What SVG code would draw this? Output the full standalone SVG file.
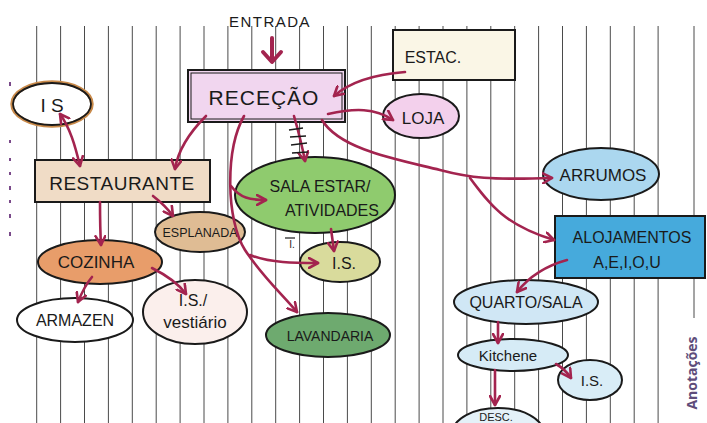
<svg xmlns="http://www.w3.org/2000/svg" width="707" height="423" viewBox="0 0 707 423">
<defs>
<marker id="ah" viewBox="0 0 12 12" refX="10" refY="6" markerWidth="12" markerHeight="12" markerUnits="userSpaceOnUse" orient="auto-start-reverse">
<path d="M1,1 L10,6 L1,11" fill="none" stroke="#a3244f" stroke-width="2.6" stroke-linecap="round" stroke-linejoin="round"/>
</marker>
<style>
.rule{stroke:#4a4a4a;stroke-width:1}
.nd{stroke:#1a1a1a;stroke-width:2}
.t{font-family:"Liberation Sans",Arial,sans-serif;fill:#1a1a1a;text-anchor:middle}
.c{fill:none;stroke:#a3244f;stroke-width:2.6;stroke-linecap:round}
.ca{fill:none;stroke:#a3244f;stroke-width:2.6;stroke-linecap:round;marker-end:url(#ah)}
.hatch{stroke:#1a1a1a;stroke-width:1.4}
</style>
</defs>
<rect width="707" height="423" fill="#ffffff"/>
<g id="paper">
<g class="rule">
<line x1="36.7" y1="26" x2="36.7" y2="423"/><line x1="60.6" y1="26" x2="60.6" y2="423"/><line x1="84.5" y1="26" x2="84.5" y2="423"/><line x1="108.4" y1="26" x2="108.4" y2="423"/><line x1="132.3" y1="26" x2="132.3" y2="423"/><line x1="156.2" y1="26" x2="156.2" y2="423"/><line x1="180.1" y1="26" x2="180.1" y2="423"/><line x1="204" y1="26" x2="204" y2="423"/><line x1="227.9" y1="26" x2="227.9" y2="423"/><line x1="251.8" y1="26" x2="251.8" y2="423"/><line x1="275.7" y1="26" x2="275.7" y2="423"/><line x1="299.6" y1="26" x2="299.6" y2="423"/><line x1="323.5" y1="26" x2="323.5" y2="423"/><line x1="347.4" y1="26" x2="347.4" y2="423"/><line x1="371.3" y1="26" x2="371.3" y2="423"/><line x1="395.2" y1="26" x2="395.2" y2="423"/><line x1="419.1" y1="26" x2="419.1" y2="423"/><line x1="443" y1="26" x2="443" y2="423"/><line x1="466.9" y1="26" x2="466.9" y2="423"/><line x1="490.8" y1="26" x2="490.8" y2="423"/><line x1="514.7" y1="26" x2="514.7" y2="423"/><line x1="538.6" y1="26" x2="538.6" y2="423"/><line x1="562.5" y1="26" x2="562.5" y2="423"/><line x1="586.4" y1="26" x2="586.4" y2="423"/><line x1="610.3" y1="26" x2="610.3" y2="423"/><line x1="634.2" y1="26" x2="634.2" y2="423"/><line x1="658.1" y1="26" x2="658.1" y2="423"/>
<line x1="694" y1="26" x2="694" y2="318"/>
</g>
<g fill="#7a4a8a">
<rect x="9" y="82" width="2" height="4"/><rect x="9" y="140" width="2" height="3"/><rect x="9" y="158" width="2" height="3"/><rect x="9" y="172" width="2" height="3"/><rect x="9" y="186" width="2" height="4"/><rect x="9" y="200" width="2" height="3"/><rect x="9" y="214" width="2" height="4"/><rect x="9" y="232" width="2" height="4"/>
</g>
<text x="0" y="0" transform="translate(697,373) rotate(-90)" font-family="'Open Sans','Liberation Sans',sans-serif" font-size="14" font-weight="bold" fill="#5e4d7a" text-anchor="middle">Anotações</text>
</g>

<g id="entrada">
<text class="t" x="270" y="27" font-size="15" letter-spacing="1.5">ENTRADA</text>
</g>
<g id="recepcao">
<rect x="188" y="70" width="157" height="52" fill="#f1d6ef" class="nd"/>
<rect x="191" y="73" width="151" height="46" fill="none" stroke="#1a1a1a" stroke-width="1"/>
<text class="t" x="264" y="105" font-size="21" letter-spacing="1">RECEÇÃO</text>
</g>
<g id="estac">
<rect x="393" y="30" width="122" height="50" fill="#faf6e6" class="nd"/>
<text class="t" x="433" y="63" font-size="16">ESTAC.</text>
</g>
<g id="loja">
<ellipse cx="421" cy="116" rx="38" ry="22" fill="#f3d0ec" class="nd"/>
<text class="t" x="423" y="124" font-size="17">LOJA</text>
</g>
<g id="is-top">
<ellipse cx="52" cy="104" rx="40" ry="22" fill="#ffffff" stroke="#c98a4a" stroke-width="3.5"/>
<ellipse cx="52" cy="104" rx="39" ry="21" fill="none" stroke="#1a1a1a" stroke-width="1.8"/>
<text class="t" x="52" y="112" font-size="19">I S</text>
</g>
<g id="restaurante">
<rect x="35" y="160" width="175" height="42" fill="#f0dcc6" class="nd"/>
<text class="t" x="122" y="190" font-size="19" letter-spacing="0.5">RESTAURANTE</text>
</g>
<g id="esplanada">
<ellipse cx="200" cy="232" rx="45" ry="20" fill="#dfbc94" class="nd"/>
<text class="t" x="200" y="237" font-size="12.5">ESPLANADA</text>
</g>
<g id="cozinha">
<ellipse cx="100" cy="262" rx="62" ry="22" fill="#e89d6a" class="nd"/>
<text class="t" x="96" y="268" font-size="17">COZINHA</text>
</g>
<g id="armazen">
<ellipse cx="75" cy="320" rx="58" ry="22" fill="#ffffff" class="nd"/>
<text class="t" x="75" y="326" font-size="16">ARMAZEN</text>
</g>
<g id="is-vestiario">
<ellipse cx="195" cy="312" rx="52" ry="32" fill="#fbefec" class="nd"/>
<text class="t" x="193" y="306" font-size="16">I.S./</text>
<text class="t" x="195" y="328" font-size="17">vestiário</text>
</g>
<g id="sala">
<ellipse cx="315" cy="195" rx="80" ry="38" fill="#8fcb6e" class="nd"/>
<text class="t" x="320" y="192" font-size="16">SALA ESTAR/</text>
<text class="t" x="332" y="216" font-size="16">ATIVIDADES</text>
</g>
<g id="is-mid">
<ellipse cx="340" cy="262" rx="40" ry="20" fill="#d9db9c" class="nd"/>
<text class="t" x="344" y="269" font-size="16">I.S.</text>
<line x1="285" y1="238" x2="295" y2="238" stroke="#1a1a1a" stroke-width="1.2"/>
<text class="t" x="292" y="248" font-size="10">I.</text>
</g>
<g id="lavandaria">
<ellipse cx="328" cy="335" rx="62" ry="22" fill="#6eaa6f" class="nd"/>
<text class="t" x="330" y="341" font-size="14">LAVANDARIA</text>
</g>
<g id="arrumos">
<ellipse cx="601" cy="174" rx="58" ry="26" fill="#abd7ef" class="nd"/>
<text class="t" x="603" y="181" font-size="17">ARRUMOS</text>
</g>
<g id="alojamentos">
<rect x="555" y="216" width="150" height="62" fill="#46aadc" class="nd"/>
<text class="t" x="632" y="243" font-size="16">ALOJAMENTOS</text>
<text class="t" x="627" y="268" font-size="16">A,E,I,O,U</text>
</g>
<g id="quarto">
<ellipse cx="526" cy="302" rx="72" ry="22" fill="#d0e7f5" class="nd"/>
<text class="t" x="526" y="308" font-size="16">QUARTO/SALA</text>
</g>
<g id="kitchene">
<ellipse cx="513" cy="355" rx="55" ry="16" fill="#d6ebf6" class="nd"/>
<text class="t" x="508" y="361" font-size="15">Kitchene</text>
</g>
<g id="is-right">
<ellipse cx="590" cy="380" rx="32" ry="20" fill="#d9edf7" class="nd"/>
<text class="t" x="592" y="386" font-size="15">I.S.</text>
</g>
<g id="desc">
<ellipse cx="498" cy="432" rx="45" ry="24" fill="#e4f1f8" class="nd"/>
<text class="t" x="496" y="421" font-size="11">DESC.</text>
</g>

<g id="connectors">
<path d="M272,38 L272,60" fill="none" stroke="#a3244f" stroke-width="4" stroke-linecap="round"/>
<path d="M263,52 L272,62 L281,52" fill="none" stroke="#a3244f" stroke-width="4" stroke-linecap="round" stroke-linejoin="round"/>
<path class="ca" d="M405,72 C380,74 352,80 334,96"/>
<path class="ca" d="M328,114 C355,108 375,108 393,120"/>
<path class="ca" d="M80,166 C75,145 70,128 60,114" marker-start="url(#ah)"/>
<path class="ca" d="M206,116 C190,132 178,150 175,169"/>
<path class="ca" d="M153,196 C162,203 168,209 173,216"/>
<path class="ca" d="M100,202 C100,215 100,228 101,245"/>
<path class="ca" d="M92,277 C86,284 82,292 78,302"/>
<path class="ca" d="M152,268 C166,275 178,283 186,294"/>
<path class="ca" d="M294,116 C298,130 302,145 305,161"/>
<path class="ca" d="M244,116 C225,150 226,220 245,250 C262,276 280,292 297,312"/>
<path class="ca" d="M231,186 C240,198 250,200 266,200"/>
<path class="ca" d="M250,255 C270,263 295,263 318,263"/>
<path class="ca" d="M331,229 C332,236 333,244 334,251"/>
<path class="ca" d="M322,120 C340,150 400,160 440,170 C470,178 490,180 552,178"/>
<path class="ca" d="M470,178 C490,205 505,225 554,240"/>
<path class="ca" d="M567,260 C545,266 528,278 517,292"/>
<path class="ca" d="M498,322 C498,330 498,336 498,343"/>
<path class="ca" d="M556,364 C563,368 567,372 571,378"/>
<path class="ca" d="M495,370 C495,382 495,392 495,405"/>
<line class="hatch" x1="289" y1="130" x2="303" y2="128"/>
<line class="hatch" x1="290" y1="137" x2="306" y2="136"/>
<line class="hatch" x1="291" y1="145" x2="307" y2="143"/>
<line class="hatch" x1="292" y1="153" x2="308" y2="152"/>
</g>
</svg>
